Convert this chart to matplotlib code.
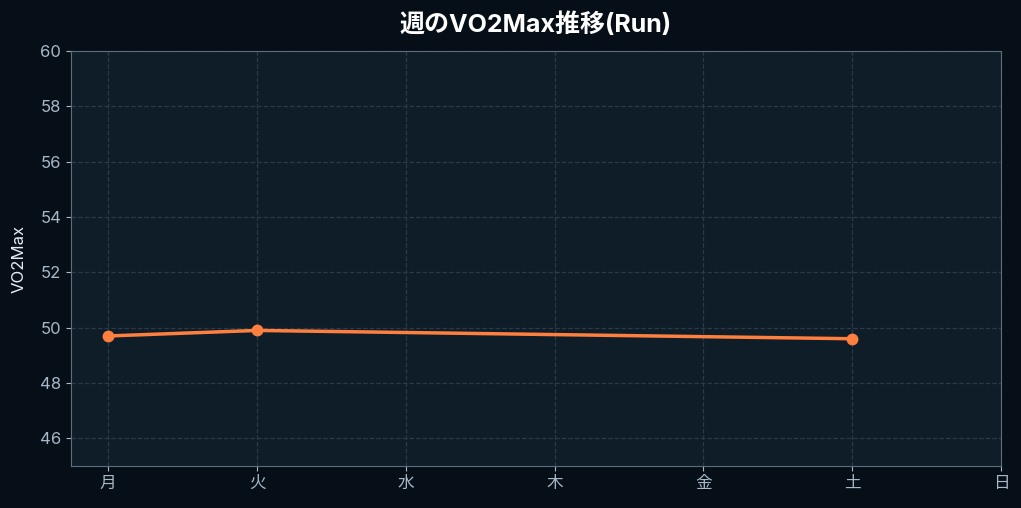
import numpy as np
import matplotlib
matplotlib.use("Agg")
import matplotlib.pyplot as plt

plt.rcParams['font.family'] = ['Inter', 'Noto Sans CJK JP', 'DejaVu Sans']

days = ['月', '火', '水', '木', '金', '土', '日']
run_days = [0, 1, 5]
vo2max = [49.7, 49.9, 49.6]
yticks = [46, 48, 50, 52, 54, 56, 58, 60]

fig = plt.figure(figsize=(10.21, 5.08), dpi=100, facecolor='#060f17')
ax = fig.add_axes([71 / 1021, 1 - 466 / 508, 930 / 1021, 415 / 508])
ax.set_facecolor('#0f1d29')

ax.plot(run_days, vo2max, color='#ff7f3f', lw=2.5, marker='o', ms=7.5, zorder=3)

ax.set_xlim(-0.25, 6)
ax.set_ylim(45, 60)
ax.set_xticks(range(len(days)))
ax.set_xticklabels(days)
ax.set_yticks(yticks)
ax.grid(True, color='#2a3a48', ls='--', lw=0.9)
ax.tick_params(colors='#a9b8c8', labelsize=12)
for s in ax.spines.values():
    s.set_color('#5d6d7b')

ax.set_ylabel('VO2Max', color='#e8eef4', fontsize=12, labelpad=10)
ax.set_title('週のVO2Max推移(Run)', color='white', fontsize=18, fontweight='bold', pad=14)

fig.savefig('out.png', dpi=100, facecolor=fig.get_facecolor())
